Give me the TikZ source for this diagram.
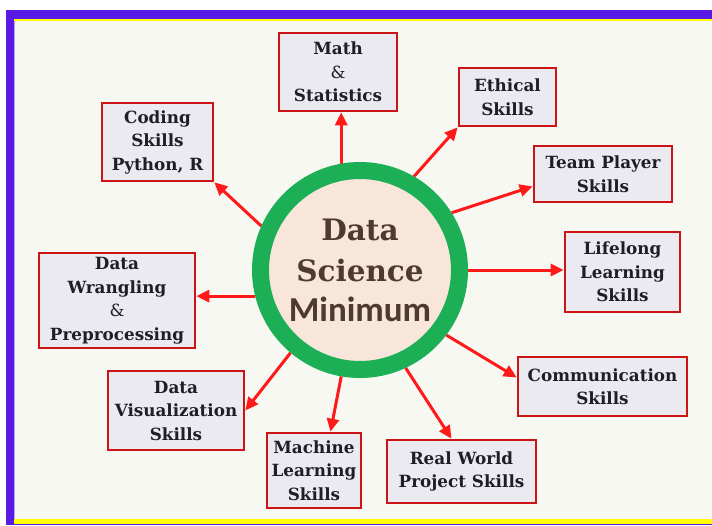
\documentclass[tikz,border=0pt]{standalone}
\usepackage{fontspec}
\setmainfont{DejaVu Serif}
\newfontfamily\circsans{Carlito}
\usetikzlibrary{arrows.meta,backgrounds}
\definecolor{bgc}{HTML}{F8F8F3}
\definecolor{purp}{HTML}{5A1AE6}
\definecolor{yel}{HTML}{FFFF00}
\definecolor{boxfill}{HTML}{EAEAF0}
\definecolor{boxline}{HTML}{CC1414}
\definecolor{arr}{HTML}{FF1A1A}
\definecolor{ringg}{HTML}{1DAF55}
\definecolor{peach}{HTML}{F9E6DA}
\definecolor{brownt}{HTML}{4E3B2E}
\definecolor{txt}{HTML}{1E1E28}
\tikzset{
  skill/.style={draw=boxline, fill=boxfill, line width=2.6pt, inner sep=0pt,
    align=center, text=txt, font=\fontsize{16.8}{23.5}\selectfont\bfseries},
  link/.style={draw=arr, line width=3pt, -{Triangle[length=13pt,width=12pt]}},
  hub/.style={circle, draw=ringg, fill=peach, line width=17pt, minimum size=199pt, inner sep=0pt,
    align=center, text=brownt, font=\fontsize{29.5}{41}\selectfont\bfseries}
}
\newcommand{\amp}{{\mdseries\&}}
\begin{document}
\begin{tikzpicture}[x=1pt,y=-1pt]
\useasboundingbox (0,0) rectangle (712,525);
\begin{scope}[on background layer]
  \fill[white] (0,0) rectangle (712,525);
  \fill[bgc] (14,21) rectangle (712,519);
  \fill[purp] (6,10) rectangle (712,19);
  \fill[purp] (6,10) rectangle (14,525);
  \fill[yel] (14,19) rectangle (712,21);
  \fill[yel] (14,519) rectangle (712,524);
  \fill[purp] (14,524) rectangle (712,525);
  \fill[purp!40!white] (14,21) rectangle (15,519);
\end{scope}

\node[hub] (c) at (360,270) {Data\\Science\\[-1pt]\circsans\fontsize{35}{40}\selectfont\bfseries Minimum};

\node[skill, minimum width=118pt, minimum height=78pt] (math) at (338,72) {Math\\\amp\\Statistics};
\node[skill, minimum width=97pt, minimum height=58pt] (eth) at (507.5,97) {Ethical\\Skills};
\node[skill, minimum width=111pt, minimum height=78pt] (cod) at (157.5,142) {Coding\\Skills\\Python, R};
\node[skill, minimum width=138pt, minimum height=56pt] (tp) at (603,174) {Team Player\\Skills};
\node[skill, minimum width=115pt, minimum height=80pt] (ll) at (622.5,272) {Lifelong\\Learning\\Skills};
\node[skill, minimum width=156pt, minimum height=95pt] (dw) at (117,300.5) {Data\\Wrangling\\\amp\\Preprocessing};
\node[skill, minimum width=169pt, minimum height=59pt] (com) at (602.5,386.5) {Communication\\Skills};
\node[skill, minimum width=136pt, minimum height=79pt] (dv) at (176,410.5) {Data\\Visualization\\Skills};
\node[skill, minimum width=94pt, minimum height=75pt] (ml) at (314,470.5) {Machine\\Learning\\Skills};
\node[skill, minimum width=149pt, minimum height=63pt] (rw) at (461.5,471.5) {Real World\\Project Skills};

\begin{scope}[on background layer]
  \draw[link] (c.100) -- (c.100 |- math.south);
  \draw[link] (c.60) -- (eth.south west);
  \draw[link] (c.32) -- (tp.190);
  \draw[link] (c.east) -- (c.east -| ll.west);
  \draw[link] (c.-37) -- (com.174);
  \draw[link] (c.-65) -- (rw.107);
  \draw[link] (c.-100) -- (ml.67);
  \draw[link] (c.-130) -- (dv.east);
  \draw[link] (c.194) -- (c.194 -| dw.east);
  \draw[link] (c.156) -- (cod.south east);
\end{scope}
\end{tikzpicture}
\end{document}
